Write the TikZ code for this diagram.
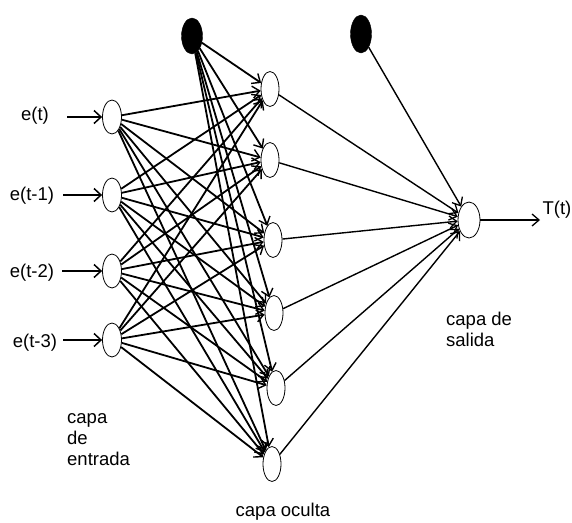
\documentclass[tikz,border=0pt]{standalone}
\usepackage{fontspec}
\setmainfont{Liberation Sans}
\usetikzlibrary{arrows.meta,shapes.geometric}
\begin{document}
\begin{tikzpicture}[x=1pt,y=-1pt,
  neuron/.style={draw,ellipse,minimum width=19pt,minimum height=34pt,inner sep=0pt,line width=0.8pt},
  hid/.style={neuron,minimum width=18pt,minimum height=35pt},
  bias/.style={draw,fill=black,ellipse,minimum width=21pt,minimum height=36pt,inner sep=0pt},
  conn/.style={line width=1.8pt,-{Straight Barb[length=7pt,width=12pt,line width=1.4pt]}},
  inarrow/.style={line width=2.6pt,-{Straight Barb[length=7pt,width=13pt,line width=1.5pt]}},
  thinconn/.style={line width=1.4pt,-{Straight Barb[length=7pt,width=12pt,line width=1.3pt]}},
  lbl/.style={font=\fontsize{18.5}{21}\selectfont,inner sep=0pt}]
\useasboundingbox (0,0) rectangle (572,522);
\fill[white] (0,0) rectangle (572,522);
% input layer
\node[neuron] (i1) at (112,117) {};
\node[neuron] (i2) at (112,195) {};
\node[neuron] (i3) at (112,271) {};
\node[neuron] (i4) at (112,340) {};
% hidden layer
\node[hid] (h1) at (270,89) {};
\node[hid] (h2) at (270,160) {};
\node[hid] (h3) at (273,240) {};
\node[hid] (h4) at (274,313) {};
\node[hid] (h5) at (276,388) {};
\node[hid] (h6) at (272,464) {};
% output
\node[neuron,minimum width=22pt,minimum height=36pt] (o) at (469,220) {};
% biases
\node[bias] (b1) at (192,36) {};
\node[bias,minimum height=38pt] (b2) at (361,34) {};
% input labels
\node[lbl] (l1) at (35,116) {e(t)};
\node[lbl] (l2) at (32,196) {e(t-1)};
\node[lbl] (l3) at (32,273) {e(t-2)};
\node[lbl] (l4) at (35,343) {e(t-3)};
\coordinate (s1) at (67,117);
\coordinate (s2) at (63,195);
\coordinate (s3) at (62,271);
\coordinate (s4) at (63,340);
\foreach \k in {1,...,4} \draw[inarrow] (s\k) -- (i\k);
% input -> hidden
\foreach \a in {1,...,4}
  \foreach \b in {1,...,6}
    \draw[conn] (i\a) -- (h\b);
% bias -> hidden
\foreach \b in {1,...,6} \draw[conn] (b1) -- (h\b);
% hidden -> output
\foreach \b in {1,...,6} \draw[thinconn] (h\b) -- (o);
\draw[thinconn] (b2) -- (o);
% output arrow
\coordinate (t) at (540,220);
\draw[thinconn] (o) -- (t);
\node[lbl,anchor=east] (tl) at (571.5,210) {T(t)};
% layer labels
\node[lbl,anchor=west,align=left] (le) at (67,440) {capa\\[0pt]de\\[0pt]entrada};
\node[lbl] (lh) at (283,512) {capa oculta};
\node[lbl,anchor=west,align=left] (lo) at (446,329) {capa de\\[0pt]salida};
\end{tikzpicture}
\end{document}
